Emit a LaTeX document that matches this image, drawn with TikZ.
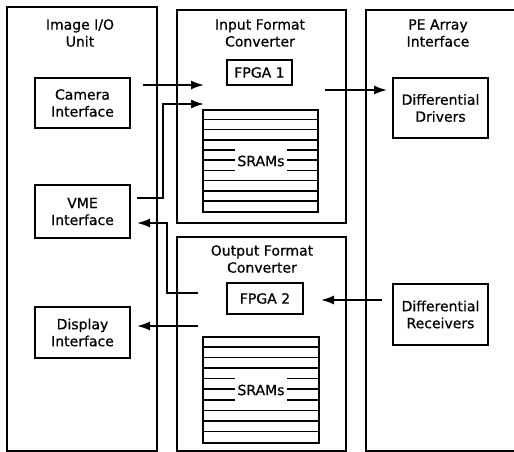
\documentclass[tikz,border=0pt]{standalone}
\usepackage{fontspec}
\setmainfont{DejaVu Sans}[FakeBold=0.6]
\usetikzlibrary{arrows.meta}
\begin{document}
\begin{tikzpicture}[x=1pt,y=1pt,
  txt/.style={font=\fontsize{14}{17}\selectfont},
  frame/.style={draw,line width=1.7pt,inner sep=0pt},
  unitbox/.style={draw,line width=1.7pt,inner sep=0pt,align=center,txt},
  ttl/.style={align=center,inner sep=0pt,txt},
  sram/.style={draw,line width=1.7pt,inner sep=0pt},
  sramline/.style={line width=1.5pt},
  conn/.style={line width=1.7pt},
  arr/.style={conn,-{Latex[length=13pt,width=9pt]}}
]
\useasboundingbox (0,0) rectangle (514,-452);

% outer frames
\node[frame,minimum width=150,minimum height=444] (iou) at (82,-229) {};
\node[frame,minimum width=169,minimum height=213] (ifc) at (261.5,-116.5) {};
\node[frame,minimum width=169,minimum height=214] (ofc) at (261.5,-344) {};
\draw[line width=1.7pt] (514,-10) -| (366,-451) -- (514,-451);

% titles
\node[ttl] (iout) at (80,-33) {Image I/O\\Unit};
\node[ttl] (ifct) at (260,-33) {Input Format\\Converter};
\node[ttl] (ofct) at (262,-259) {Output Format\\Converter};
\node[ttl] (pet) at (438,-33) {PE Array\\Interface};

% inner boxes
\node[unitbox,minimum width=95,minimum height=50] (cam) at (82.5,-103) {Camera\\Interface};
\node[unitbox,minimum width=95,minimum height=53] (vme) at (82.5,-211.5) {VME\\Interface};
\node[unitbox,minimum width=95,minimum height=51] (disp) at (82.5,-332.5) {Display\\Interface};
\node[unitbox,minimum width=65,minimum height=25] (fpga1) at (259.5,-72.5) {FPGA 1};
\node[unitbox,minimum width=76,minimum height=31] (fpga2) at (265,-298.5) {FPGA 2};
\node[unitbox,minimum width=95,minimum height=60] (drv) at (440.5,-108) {Differential\\Drivers};
\node[unitbox,minimum width=95,minimum height=61] (rcv) at (440.5,-314.5) {Differential\\Receivers};

% SRAM stacks
\node[sram,minimum width=115,minimum height=102] (sram1) at (260.5,-161) {};
\foreach \i in {1,...,9}
  \draw[sramline] ([yshift=-\i*10.2pt]sram1.north west) -- ([yshift=-\i*10.2pt]sram1.north east);
\node[ttl,fill=white,minimum width=52,minimum height=26] (s1t) at (261,-161) {SRAMs};

\node[sram,minimum width=116,minimum height=106] (sram2) at (261,-390) {};
\foreach \i in {1,...,9}
  \draw[sramline] ([yshift=-\i*10.6pt]sram2.north west) -- ([yshift=-\i*10.6pt]sram2.north east);
\node[ttl,fill=white,minimum width=52,minimum height=27] (s2t) at (261,-390) {SRAMs};

% connector end points
\coordinate (camout) at (143,-85);
\coordinate (ifcin1) at (204,-85);
\coordinate (vmeout) at (137,-198);
\coordinate (ifcin2) at (204,-104);
\coordinate (ifcout) at (325,-90);
\coordinate (drvin) at (387,-90);
\coordinate (rcvout) at (382,-300);
\coordinate (fpga2in) at (321,-300);
\coordinate (ofcout1) at (198,-293);
\coordinate (vmein) at (137,-223);
\coordinate (ofcout2) at (198,-326);
\coordinate (dispin) at (137,-326);

% connectors
\draw[arr] (camout) -- (ifcin1);
\draw[arr] (vmeout) -- (163,-198) |- (ifcin2);
\draw[arr] (ifcout) -- (drvin);
\draw[arr] (rcvout) -- (fpga2in);
\draw[arr] (ofcout1) -- (167,-293) |- (vmein);
\draw[arr] (ofcout2) -- (dispin);
\end{tikzpicture}
\end{document}
